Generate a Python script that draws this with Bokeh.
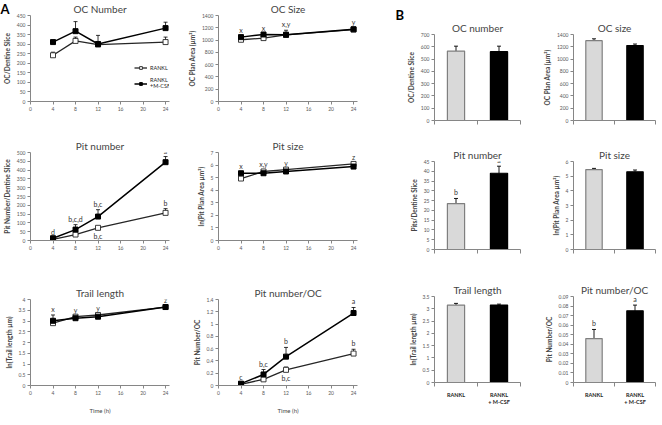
from bokeh.plotting import figure
from bokeh.layouts import row, column
from bokeh.models import (Range1d, FixedTicker, Whisker, TeeHead, ColumnDataSource,
                          Label, Legend, LegendItem)
from bokeh.embed import file_html
from bokeh.resources import INLINE
from bokeh.core.properties import value

# ---------------- data ----------------
time_h = [4, 8, 12, 24]
time_ticks = [0, 4, 8, 12, 16, 20, 24]

oc_num_rankl = [242, 317, 298, 311]
oc_num_rankl_err = [16, 20, 6, 26]
oc_num_mcsf = [311, 368, 301, 384]
oc_num_mcsf_err = [6, 50, 45, 31]

oc_size_rankl = [1005, 1032, 1086, 1171]
oc_size_rankl_err = [15, 15, 20, 15]
oc_size_mcsf = [1048, 1091, 1086, 1176]
oc_size_mcsf_err = [15, 15, 74, 15]
oc_size_letters = ["x", "x", "x,y", "y"]

pit_num_rankl = [6, 34, 72, 157]
pit_num_rankl_err = [3, 5, 6, 24]
pit_num_mcsf = [13, 62, 136, 445]
pit_num_mcsf_err = [4, 28, 39, 32]
pit_num_mcsf_letters = ["d", "b,c,d", "b,c", "a"]
pit_num_rankl_letters = ["", "c,d", "b,c", "b"]
pit_num_rankl_pos = ["", "below", "below", "above"]

pit_size_rankl = [4.93, 5.49, 5.64, 6.09]
pit_size_rankl_err = [0.1, 0.08, 0.08, 0.08]
pit_size_mcsf = [5.35, 5.35, 5.49, 5.88]
pit_size_mcsf_err = [0.08, 0.08, 0.08, 0.08]
pit_size_letters = ["x", "x,y", "y", "z"]

trail_rankl = [2.90, 3.20, 3.28, 3.65]
trail_rankl_err = [0.05, 0.05, 0.05, 0.05]
trail_mcsf = [3.01, 3.13, 3.20, 3.65]
trail_mcsf_err = [0.27, 0.05, 0.05, 0.05]
trail_letters = ["x", "y", "y", "z"]

pit_oc_rankl = [0.02, 0.10, 0.255, 0.52]
pit_oc_rankl_err = [0.01, 0.03, 0.045, 0.07]
pit_oc_mcsf = [0.03, 0.18, 0.47, 1.18]
pit_oc_mcsf_err = [0.01, 0.08, 0.15, 0.09]
pit_oc_mcsf_letters = ["c", "b,c", "b", "a"]
pit_oc_rankl_letters = ["", "c", "b,c", "b"]
pit_oc_rankl_pos = ["", "below", "below", "above"]

groups = ["RANKL", "RANKL\n+ M-CSF"]
bar_fill = ["#d9d9d9", "#000000"]
bar_line = ["#7f7f7f", "#000000"]

b_oc_num = [565, 560]
b_oc_num_err = [40, 45]
b_oc_size = [1300, 1220]
b_oc_size_err = [30, 25]
b_pit_num = [23.5, 39.0]
b_pit_num_err = [2.6, 3.6]
b_pit_num_letters = ["b", "a"]
b_pit_size = [5.45, 5.30]
b_pit_size_err = [0.08, 0.12]
b_trail = [3.15, 3.15]
b_trail_err = [0.07, 0.04]
b_pit_oc = [0.046, 0.075]
b_pit_oc_err = [0.0095, 0.006]
b_pit_oc_letters = ["b", "a"]

FONT = "Lato"
AX = "#868686"


def style(p, title, ylabel, xlabel=None):
    p.outline_line_color = None
    p.xgrid.visible = False
    p.ygrid.visible = False
    p.title.text = title
    p.title.align = "center"
    p.title.text_font = FONT
    p.title.text_font_size = "10px"
    p.title.text_font_style = "normal"
    p.title.standoff = 1
    p.title.offset = 0
    for ax in p.axis:
        ax.axis_line_color = AX
        ax.major_tick_line_color = AX
        ax.minor_tick_line_color = None
        ax.major_tick_out = 3
        ax.major_tick_in = 0
        ax.major_label_text_font = FONT
        ax.major_label_text_font_size = "5px"
        ax.major_label_text_color = "#595959"
        ax.major_label_standoff = 2
        ax.axis_label_text_font = FONT
        ax.axis_label_standoff = 3
    p.yaxis.axis_label = ylabel
    p.yaxis.axis_label_text_font_size = "6.5px"
    p.yaxis.axis_label_text_font_style = "bold"
    if xlabel:
        p.xaxis.axis_label = xlabel
        p.xaxis.axis_label_text_font_size = "6px"
        p.xaxis.axis_label_text_font_style = "normal"
        p.xaxis.axis_label_standoff = 9


def ticks(end, step):
    n = int(round(end / step))
    return [round(i * step, 4) for i in range(n + 1)]


def panel_letter(p, text, x, y, side):
    # placed in a side panel (not clipped to the frame), canvas coordinates
    lab = Label(x=x, y=y, x_units="canvas", y_units="canvas", text=text,
                text_font=FONT, text_font_size="13px", text_font_style="bold",
                text_color="black", text_baseline="top", text_align="left")
    p.add_layout(lab, side)


def add_err(p, xs, vals, errs, w=0.8):
    src = ColumnDataSource(dict(x=xs, lo=vals, hi=[v + e for v, e in zip(vals, errs)]))
    p.add_layout(Whisker(source=src, base="x", lower="lo", upper="hi", dimension="height",
                         line_color="black", line_width=w,
                         upper_head=TeeHead(size=4, line_color="black", line_width=w),
                         lower_head=None))


def add_letters(p, xs, ys, labels, pos):
    above = dict(x=[], y=[], t=[])
    below = dict(x=[], y=[], t=[])
    for x, y, t, ps in zip(xs, ys, labels, pos):
        if not t:
            continue
        d = above if ps == "above" else below
        d["x"].append(x); d["y"].append(y); d["t"].append(t)
    common = dict(text_font=value(FONT), text_font_size="7px", text_color="#333333",
                  text_align="center")
    if above["x"]:
        p.text(x="x", y="y", text="t", source=ColumnDataSource(above),
               text_baseline="bottom", y_offset=-2, **common)
    if below["x"]:
        p.text(x="x", y="y", text="t", source=ColumnDataSource(below),
               text_baseline="top", y_offset=4, **common)


def line_panel(title, ylabel, y_end, y_step, r, re, m, me, fh, borders, xlabel=None):
    top, bottom, left, right = borders
    p = figure(frame_width=139, frame_height=fh, x_range=Range1d(0, 24.7),
               y_range=Range1d(0, y_end), output_backend="svg", toolbar_location=None,
               min_border_top=top, min_border_bottom=bottom, min_border_left=left,
               min_border_right=right)
    style(p, title, ylabel, xlabel)
    p.xaxis.ticker = FixedTicker(ticks=time_ticks)
    p.yaxis.ticker = FixedTicker(ticks=ticks(y_end, y_step))
    add_err(p, time_h, r, re)
    add_err(p, time_h, m, me)
    l1 = p.line(time_h, r, line_color="#262626", line_width=1.3)
    s1 = p.scatter(time_h, r, marker="square", size=5, fill_color="white",
                   line_color="#262626", line_width=0.9)
    l2 = p.line(time_h, m, line_color="black", line_width=1.5)
    s2 = p.scatter(time_h, m, marker="square", size=5, fill_color="black",
                   line_color="black")
    return p, (l1, s1, l2, s2)


def bar_panel(title, ylabel, y_end, y_step, vals, errs, fw, fh, borders, show_cats=False,
              letters=None):
    top, bottom, left, right = borders
    p = figure(frame_width=fw, frame_height=fh, x_range=Range1d(0, len(groups)),
               y_range=Range1d(0, y_end), output_backend="svg", toolbar_location=None,
               min_border_top=top, min_border_bottom=bottom, min_border_left=left,
               min_border_right=right)
    style(p, title, ylabel)
    xs = [i + 0.5 for i in range(len(groups))]
    p.vbar(x=xs, top=vals, width=0.4, fill_color=bar_fill, line_color=bar_line,
           line_width=1.2)
    add_err(p, xs, vals, errs, w=0.9)
    p.yaxis.ticker = FixedTicker(ticks=ticks(y_end, y_step))
    bounds = list(range(len(groups) + 1))
    if show_cats:
        p.xaxis.ticker = FixedTicker(ticks=xs, minor_ticks=bounds)
        p.xaxis.major_label_overrides = {x: g for x, g in zip(xs, groups)}
        p.xaxis.major_label_text_font_style = "bold"
        p.xaxis.major_label_text_color = "#262626"
        p.xaxis.major_label_text_font_size = "5.5px"
        p.xaxis.major_label_standoff = 5
    else:
        p.xaxis.ticker = FixedTicker(ticks=[], minor_ticks=bounds)
    p.xaxis.major_tick_out = 0
    p.xaxis.minor_tick_out = 4
    p.xaxis.minor_tick_in = 0
    p.xaxis.minor_tick_line_color = AX
    if letters:
        add_letters(p, xs, [v + e for v, e in zip(vals, errs)], letters, ["above"] * len(xs))
    return p


# ---------------- panel A ----------------
LB_A1 = (26, 16)
LB_A2 = (28, 36)

f_ocnum, rs = line_panel("OC Number", "OC/Dentine Slice", 450, 50,
                         oc_num_rankl, oc_num_rankl_err, oc_num_mcsf, oc_num_mcsf_err,
                         86, (14, 36) + LB_A1)
legend = Legend(items=[LegendItem(label="RANKL", renderers=[rs[0], rs[1]]),
                       LegendItem(label="RANKL\n+M-CSF", renderers=[rs[2], rs[3]])],
                location=(104, 12), background_fill_alpha=0, border_line_color=None,
                label_text_font=FONT, label_text_font_size="5.5px", label_text_color="#262626",
                glyph_width=13, glyph_height=7, spacing=6, padding=0, margin=0,
                label_standoff=3, label_height=7)
f_ocnum.add_layout(legend)
panel_letter(f_ocnum, "A", 0, 0, "below")

f_ocsize, _ = line_panel("OC Size", "OC Plan Area (µm²)", 1400, 200,
                         oc_size_rankl, oc_size_rankl_err, oc_size_mcsf, oc_size_mcsf_err,
                         86, (14, 36) + LB_A2)
add_letters(f_ocsize, time_h,
            [max(a + b, c + d) for a, b, c, d in zip(oc_size_rankl, oc_size_rankl_err,
                                                     oc_size_mcsf, oc_size_mcsf_err)],
            oc_size_letters, ["above"] * 4)

f_pitnum, _ = line_panel("Pit number", "Pit Number/Dentine Slice", 500, 50,
                         pit_num_rankl, pit_num_rankl_err, pit_num_mcsf, pit_num_mcsf_err,
                         88, (14, 44) + LB_A1)
add_letters(f_pitnum, time_h, [v + e for v, e in zip(pit_num_mcsf, pit_num_mcsf_err)],
            pit_num_mcsf_letters, ["above"] * 4)
add_letters(f_pitnum, time_h,
            [v + e if ps == "above" else v for v, e, ps in
             zip(pit_num_rankl, pit_num_rankl_err, pit_num_rankl_pos)],
            pit_num_rankl_letters, pit_num_rankl_pos)

f_pitsize, _ = line_panel("Pit size", "ln(Pit Plan Area µm²)", 7, 1,
                          pit_size_rankl, pit_size_rankl_err, pit_size_mcsf, pit_size_mcsf_err,
                          88, (14, 44) + LB_A2)
add_letters(f_pitsize, time_h,
            [max(a + b, c + d) for a, b, c, d in zip(pit_size_rankl, pit_size_rankl_err,
                                                     pit_size_mcsf, pit_size_mcsf_err)],
            pit_size_letters, ["above"] * 4)

f_trail, _ = line_panel("Trail length", "ln(Trail length µm)", 4, 0.5,
                        trail_rankl, trail_rankl_err, trail_mcsf, trail_mcsf_err,
                        86, (13, 28) + LB_A1, xlabel="Time (h)")
add_letters(f_trail, time_h,
            [max(a + b, c + d) for a, b, c, d in zip(trail_rankl, trail_rankl_err,
                                                     trail_mcsf, trail_mcsf_err)],
            trail_letters, ["above"] * 4)

f_pitoc, _ = line_panel("Pit number/OC", "Pit Number/OC", 1.4, 0.2,
                        pit_oc_rankl, pit_oc_rankl_err, pit_oc_mcsf, pit_oc_mcsf_err,
                        86, (13, 28) + LB_A2, xlabel="Time (h)")
add_letters(f_pitoc, time_h, [v + e for v, e in zip(pit_oc_mcsf, pit_oc_mcsf_err)],
            pit_oc_mcsf_letters, ["above"] * 4)
add_letters(f_pitoc, time_h,
            [v + e if ps == "above" else v for v, e, ps in
             zip(pit_oc_rankl, pit_oc_rankl_err, pit_oc_rankl_pos)],
            pit_oc_rankl_letters, pit_oc_rankl_pos)

# ---------------- panel B ----------------
LB_B1 = (41, 18)
LB_B2 = (35, 1)

b1 = bar_panel("OC number", "OC/Dentine Slice", 700, 100, b_oc_num, b_oc_num_err,
               86, 86, (34, 23) + LB_B1)
panel_letter(b1, "B", 2, 6, "below")
b2 = bar_panel("OC size", "OC Plan Area (µm²)", 1400, 200, b_oc_size, b_oc_size_err,
               82, 86, (34, 23) + LB_B2)
b3 = bar_panel("Pit number", "Pits/Dentine Slice", 45, 5, b_pit_num, b_pit_num_err,
               86, 88, (18, 32) + LB_B1, letters=b_pit_num_letters)
b4 = bar_panel("Pit size", "ln(Pit Plan Area µm²)", 6, 1, b_pit_size, b_pit_size_err,
               82, 88, (18, 32) + LB_B2)
b5 = bar_panel("Trail length", "ln(Trail length µm)", 3.5, 0.5, b_trail, b_trail_err,
               86, 86, (13, 29) + LB_B1, show_cats=True)
b6 = bar_panel("Pit number/OC", "Pit Number/OC", 0.09, 0.01, b_pit_oc, b_pit_oc_err,
               82, 86, (13, 29) + LB_B2, show_cats=True, letters=b_pit_oc_letters)

layout = row(column(f_ocnum, f_pitnum, f_trail),
             column(f_ocsize, f_pitsize, f_pitoc),
             column(b1, b3, b5),
             column(b2, b4, b6))

open("out.html", "w").write(file_html(layout, INLINE))
